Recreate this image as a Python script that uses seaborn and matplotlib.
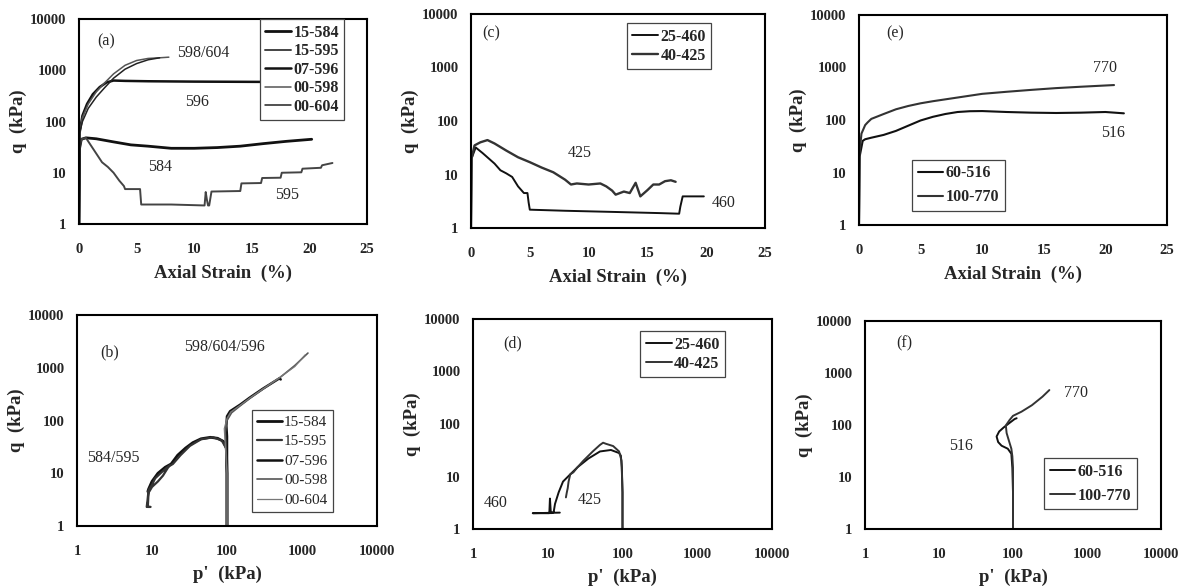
import numpy as np
import pandas as pd
import matplotlib
matplotlib.use("Agg")
import matplotlib.pyplot as plt
import seaborn as sns

sns.set_theme(style="white")
plt.rcParams["font.family"] = ["Liberation Serif", "DejaVu Serif"]

# ---------------- (a) q vs axial strain ----------------
a_584_x = [0, 0.05, 0.2, 0.6, 1.5, 3, 4.5, 6, 8, 10, 12, 14, 16, 18, 20.2]
a_584_y = [1, 30, 45, 48, 46, 40, 35, 33, 30, 30, 31, 33, 37, 41, 45]
a_595_x = [0, 0.05, 0.2, 0.6, 1.0, 2.0, 2.5, 3.0, 3.5, 3.9, 4.0, 5.3, 5.4, 8.0, 10.9,
           11.0, 11.1, 11.2, 11.3, 11.5, 14.0, 14.1, 15.8, 15.9, 17.5, 17.6, 19.3,
           19.4, 21.0, 21.1, 22.0]
a_595_y = [1, 30, 45, 48, 35, 16, 13, 10, 7, 5.5, 4.8, 4.8, 2.4, 2.4, 2.3,
           4.2, 3.0, 2.3, 2.3, 4.3, 4.4, 6.2, 6.3, 7.9, 8.0, 10, 10.2,
           12, 12.5, 14, 15.5]
a_596_x = [0, 0.05, 0.3, 0.7, 1.2, 1.8, 2.4, 3.0, 4, 6, 10, 14, 18, 20]
a_596_y = [1, 60, 130, 220, 340, 470, 580, 630, 620, 610, 600, 595, 590, 590]
a_598_x = [0, 0.05, 0.3, 0.8, 1.5, 2.2, 3, 4, 5, 6, 7, 7.8]
a_598_y = [1, 60, 120, 220, 380, 560, 850, 1250, 1550, 1700, 1750, 1800]
a_604_x = [0, 0.05, 0.3, 0.8, 1.5, 2.2, 3, 4, 5, 6, 7]
a_604_y = [1, 60, 100, 180, 300, 450, 700, 1050, 1350, 1600, 1750]

# ---------------- (b) q vs p' ----------------
b_584_p = [100, 100, 98, 90, 75, 60, 45, 35, 28, 22, 18, 15, 12, 10, 9, 8.8]
b_584_q = [1, 10, 30, 40, 46, 48, 45, 38, 30, 22, 15, 13, 10, 7, 5, 4.5]
b_595_p = [100, 100, 97, 85, 65, 45, 32, 24, 19, 16, 13, 11, 10, 9, 8.7, 8.5,
           9.5, 8.8, 9.0, 9.2, 10, 12, 14, 17]
b_595_q = [1, 10, 30, 42, 48, 44, 33, 22, 15, 13, 10, 8, 6, 4.8, 3, 2.3,
           2.3, 2.3, 4.5, 4.5, 5.5, 7, 9, 14]
b_596_p = [100, 100, 100, 98, 100, 110, 150, 200, 300, 500, 520]
b_596_q = [1, 10, 50, 80, 120, 150, 200, 270, 400, 630, 600]
b_598_p = [100, 100, 95, 100, 115, 150, 200, 300, 500, 800, 1200]
b_598_q = [1, 10, 60, 100, 140, 190, 260, 390, 640, 1100, 1900]
b_604_p = [100, 100, 92, 100, 112, 150, 200, 300, 500, 800, 1100]
b_604_q = [1, 10, 70, 110, 145, 195, 265, 395, 650, 1050, 1750]

# ---------------- (c) q vs axial strain ----------------
c_460_x = [0, 0.05, 0.4, 1, 2, 2.5, 3, 3.5, 4, 4.5, 4.8, 4.9, 5, 8, 12, 16,
           17.7, 17.8, 18.0, 19.8]
c_460_y = [1, 20, 32, 25, 16, 12, 10.5, 9, 6, 4.5, 4.5, 3, 2.2, 2.1, 2.0, 1.9,
           1.85, 2.5, 3.9, 3.9]
c_425_x = [0, 0.05, 0.3, 0.8, 1.4, 2, 3, 4, 5, 6, 7, 8, 8.5, 9, 10, 11, 11.5,
           12, 12.3, 13, 13.5, 14, 14.4, 15, 15.5, 16, 16.5, 17, 17.4]
c_425_y = [1, 20, 35, 40, 44, 38, 28, 21, 17, 13.5, 11, 8, 6.5, 6.8, 6.5, 6.8,
           6, 5, 4.2, 4.8, 4.5, 7, 3.9, 5.1, 6.5, 6.5, 7.5, 7.8, 7.3]

# ---------------- (d) q vs p' ----------------
d_460_p = [100, 100, 98, 95, 90, 70, 50, 35, 25, 20, 16, 14, 12.5, 12, 11,
           10.7, 10.5, 10.2, 8, 6.3, 14.5]
d_460_q = [1, 5, 15, 25, 28, 32, 30, 22, 15, 11, 8, 5, 3, 2.1, 2.0,
           3.8, 2.0, 2.0, 2.0, 2.0, 2.05]
d_425_p = [100, 100, 97, 90, 75, 60, 55, 50, 40, 30, 25, 22, 20, 19, 18.5, 18, 17.5]
d_425_q = [1, 5, 20, 30, 38, 42, 44, 40, 30, 20, 15, 12, 11, 8, 6, 5, 4]

# ---------------- (e) q vs axial strain ----------------
e_516_x = [0, 0.05, 0.3, 0.5, 1, 2, 3, 4, 5, 6, 7, 8, 9, 10, 12, 14, 16, 18, 20, 21.5]
e_516_y = [1, 20, 40, 43, 46, 52, 62, 78, 98, 115, 130, 142, 147, 148, 142, 138,
           136, 138, 142, 134]
e_770_x = [0, 0.05, 0.2, 0.5, 0.7, 1, 2, 3, 4, 5, 6, 8, 10, 12, 14, 16, 18, 20.7]
e_770_y = [1, 25, 55, 80, 90, 105, 130, 160, 185, 208, 228, 268, 315, 345, 375,
           405, 430, 463]

# ---------------- (f) q vs p' ----------------
f_516_p = [100, 100, 98, 95, 85, 70, 63, 60, 65, 75, 90, 105, 112]
f_516_q = [1, 5, 15, 28, 35, 40, 47, 60, 75, 90, 110, 130, 135]
f_770_p = [100, 100, 100, 98, 95, 88, 82, 80, 90, 100, 130, 180, 250, 310]
f_770_q = [1, 5, 15, 25, 35, 50, 70, 98, 125, 150, 180, 240, 350, 470]

log_ticks = [1, 10, 100, 1000, 10000]
log_tick_labels = ["1", "10", "100", "1000", "10000"]
strain_ticks = [0, 5, 10, 15, 20, 25]
strain_tick_labels = ["0", "5", "10", "15", "20", "25"]

W, H = 1186, 587
fig = plt.figure(figsize=(W / 100, H / 100), dpi=100)


def make_axes(x0, x1, y0, y1):
    return fig.add_axes([x0 / W, 1 - y1 / H, (x1 - x0) / W, (y1 - y0) / H])


TICK_FONT = dict(family="Liberation Serif", weight="bold", size=10.5)
LABEL_FONT = dict(family="Liberation Serif", weight="bold", size=13.5)
NOTE_FONT = dict(family="Liberation Serif", size=11.5)


def style_axes(ax, strain):
    ax.set_yscale("log")
    ax.set_ylim(1, 10000)
    ax.set_yticks(log_ticks)
    ax.set_yticklabels(log_tick_labels, fontdict=TICK_FONT)
    ax.yaxis.set_minor_locator(matplotlib.ticker.NullLocator())
    if strain:
        ax.set_xlim(0, 25)
        ax.set_xticks(strain_ticks)
        ax.set_xticklabels(strain_tick_labels, fontdict=TICK_FONT)
        ax.set_xlabel("Axial Strain  (%)", fontdict=LABEL_FONT, labelpad=6)
    else:
        ax.set_xscale("log")
        ax.set_xlim(1, 10000)
        ax.set_xticks(log_ticks)
        ax.set_xticklabels(log_tick_labels, fontdict=TICK_FONT)
        ax.xaxis.set_minor_locator(matplotlib.ticker.NullLocator())
        ax.set_xlabel("p'  (kPa)", fontdict=LABEL_FONT, labelpad=5)
    ax.set_ylabel("q  (kPa)", fontdict=LABEL_FONT, labelpad=2)
    ax.tick_params(axis="x", length=0, pad=14)
    ax.tick_params(axis="y", length=0, pad=9)
    for s in ax.spines.values():
        s.set_visible(True)
        s.set_color("black")
        s.set_linewidth(1.5)
    ax.grid(False)
    ax.set_facecolor("white")


def draw(ax, xs, ys, label, color, lw):
    df = pd.DataFrame({"x": xs, "y": ys})
    sns.lineplot(data=df, x="x", y="y", sort=False, estimator=None, ax=ax,
                 color=color, linewidth=lw, label=label)


def legend(ax, left, top, bold=True, spacing=0.2, size=11.5):
    leg = ax.legend(loc="upper left", bbox_to_anchor=(left, top), frameon=True,
                    fancybox=False, edgecolor="#444444", framealpha=1,
                    prop=dict(family="Liberation Serif",
                              weight="bold" if bold else "normal", size=size),
                    handlelength=1.6, handletextpad=0.15, labelspacing=spacing,
                    borderpad=0.35, borderaxespad=0)
    leg.get_frame().set_linewidth(0.9)


def note(ax, x, y, s, **kw):
    ax.text(x, y, s, transform=ax.transAxes, va="center", ha="left",
            fontdict=NOTE_FONT, **kw)


# (a)
ax = make_axes(79, 367, 19, 224)
style_axes(ax, True)
draw(ax, a_584_x, a_584_y, "15-584", "#111111", 2.0)
draw(ax, a_595_x, a_595_y, "15-595", "#444444", 1.4)
draw(ax, a_596_x, a_596_y, "07-596", "#111111", 1.8)
draw(ax, a_598_x, a_598_y, "00-598", "#555555", 1.1)
draw(ax, a_604_x, a_604_y, "00-604", "#222222", 1.1)
legend(ax, 0.628, 1.0, spacing=0.16)
note(ax, 0.063, 0.89, "(a)")
note(ax, 0.34, 0.834, "598/604")
note(ax, 0.368, 0.595, "596")
note(ax, 0.24, 0.278, "584")
note(ax, 0.68, 0.14, "595")

# (c)
ax = make_axes(471, 765, 14, 228)
style_axes(ax, True)
draw(ax, c_460_x, c_460_y, "25-460", "#111111", 1.4)
draw(ax, c_425_x, c_425_y, "40-425", "#333333", 1.7)
legend(ax, 0.53, 0.958)
note(ax, 0.037, 0.91, "(c)")
note(ax, 0.33, 0.35, "425")
note(ax, 0.82, 0.117, "460")

# (e)
ax = make_axes(859, 1167, 15, 225)
style_axes(ax, True)
draw(ax, e_516_x, e_516_y, "60-516", "#111111", 1.5)
draw(ax, e_770_x, e_770_y, "100-770", "#333333", 1.5)
legend(ax, 0.172, 0.31, spacing=0.5)
note(ax, 0.088, 0.914, "(e)")
note(ax, 0.76, 0.75, "770")
note(ax, 0.785, 0.44, "516")

# (b)
ax = make_axes(77, 377, 315, 526)
style_axes(ax, False)
draw(ax, b_584_p, b_584_q, "15-584", "#111111", 2.0)
draw(ax, b_595_p, b_595_q, "15-595", "#333333", 1.6)
draw(ax, b_596_p, b_596_q, "07-596", "#111111", 1.8)
draw(ax, b_598_p, b_598_q, "00-598", "#555555", 1.2)
draw(ax, b_604_p, b_604_q, "00-604", "#777777", 0.9)
legend(ax, 0.583, 0.55, bold=False, spacing=0.38, size=11)
note(ax, 0.077, 0.825, "(b)")
note(ax, 0.357, 0.85, "598/604/596")
note(ax, 0.033, 0.32, "584/595")

# (d)
ax = make_axes(473, 772, 319, 529)
style_axes(ax, False)
draw(ax, d_460_p, d_460_q, "25-460", "#111111", 1.4)
draw(ax, d_425_p, d_425_q, "40-425", "#333333", 1.4)
legend(ax, 0.56, 0.943)
note(ax, 0.1, 0.885, "(d)")
note(ax, 0.035, 0.124, "460")
note(ax, 0.35, 0.138, "425")

# (f)
ax = make_axes(865, 1161, 321, 529)
style_axes(ax, False)
draw(ax, f_516_p, f_516_q, "60-516", "#111111", 1.4)
draw(ax, f_770_p, f_770_q, "100-770", "#333333", 1.4)
legend(ax, 0.605, 0.341, spacing=0.5)
note(ax, 0.105, 0.894, "(f)")
note(ax, 0.672, 0.654, "770")
note(ax, 0.284, 0.4, "516")

fig.savefig("out.png", dpi=100, facecolor="white")
